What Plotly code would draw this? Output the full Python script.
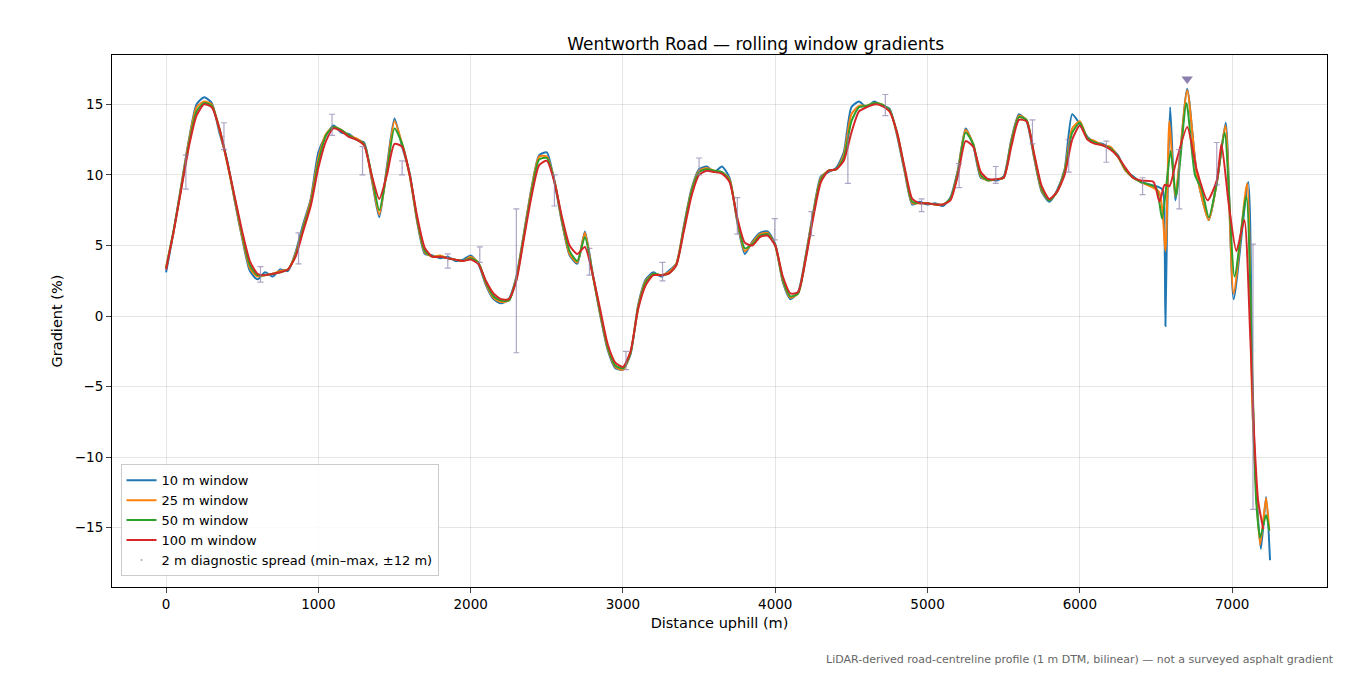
import plotly.graph_objects as go

step = 50
red_main = [3.3,6.0,9.0,12.0,14.2,15.0,14.8,13.3,11.0,8.5,
            6.0,3.9,3.0,2.9,3.0,3.1,3.3,4.2,6.0,7.8,
            10.5,12.4,13.3,13.1,12.7,12.5,12.1,10.0,8.3,10.0,
            12.2,12.0,10.0,7.0,4.8,4.2,4.2,4.1,4.0,3.9,
            4.0,3.7,2.5,1.6,1.2,1.2,2.5,5.5,8.5,10.7,
            11.0,9.5,7.0,5.0,4.4,4.9,3.0,0.5,-2.0,-3.3,
            -3.6,-2.5,0.5,2.2,2.9,2.9,3.0,3.6,6.0,8.5,
            10.0,10.3,10.2,10.1,9.5,7.0,5.2,5.0,5.6,5.7,
            5.0,2.8,1.6,1.7,4.0,7.0,9.5,10.3,10.4,11.0,
            13.0,14.5,14.8,15.0,14.9,14.5,13.0,10.5,8.3,8.0,
            8.0,7.9,7.9,8.2,10.0,12.4,12.0,10.2,9.7,9.7,
            9.8,12.0,13.9,13.8,11.5,9.2,8.3,8.8,10.0,12.5,
            13.5,12.5,12.2,12.1,11.8,11.3,10.5,9.8,9.6]
green_main = [3.4,6.1,9.1,12.2,14.5,15.1,14.9,13.3,11.0,8.4,
              5.8,3.6,2.9,2.9,3.0,3.1,3.3,4.3,6.2,8.0,
              10.9,12.8,13.4,13.2,12.8,12.5,12.2,10.0,7.5,10.2,
              13.3,12.2,10.0,6.8,4.6,4.2,4.2,4.1,4.0,3.9,
              4.1,3.8,2.4,1.4,1.1,1.1,2.6,5.7,8.8,11.1,
              11.2,9.6,6.8,4.6,3.9,5.6,3.0,0.3,-2.2,-3.5,
              -3.7,-2.6,0.6,2.4,3.0,2.9,3.0,3.6,6.2,8.8,
              10.2,10.4,10.3,10.2,9.6,6.9,4.8,5.1,5.7,5.8,
              5.0,2.6,1.4,1.6,4.1,7.2,9.7,10.3,10.4,11.2,
              13.8,14.8,14.9,15.1,15.0,14.6,13.0,10.4,8.1,8.0,
              8.0,7.9,7.9,8.3,10.2,13.0,12.2,10.0,9.6,9.7,
              9.8,12.3,14.1,13.9,11.4,9.0,8.2,8.8,10.2,13.0,
              13.7,12.6,12.3,12.1,11.9,11.3,10.4,9.8,9.5]
orange_main = [3.5,6.0,9.2,12.4,14.8,15.2,15.0,13.2,10.9,8.3,
               5.6,3.4,2.8,2.9,3.0,3.2,3.3,4.4,6.3,8.2,
               11.2,12.9,13.4,13.2,12.8,12.6,12.2,9.8,7.2,10.4,
               13.8,12.2,9.9,6.7,4.5,4.2,4.3,4.1,4.0,3.9,
               4.2,3.8,2.3,1.3,1.0,1.1,2.7,5.8,9.0,11.3,
               11.3,9.6,6.7,4.4,3.8,5.9,3.0,0.2,-2.3,-3.6,
               -3.8,-2.6,0.7,2.5,3.0,2.9,3.1,3.7,6.3,8.9,
               10.3,10.5,10.3,10.2,9.7,6.8,4.6,5.2,5.8,5.9,
               5.0,2.5,1.3,1.6,4.2,7.3,9.8,10.3,10.4,11.4,
               14.3,14.9,14.9,15.1,15.0,14.6,12.9,10.3,8.0,8.0,
               8.0,7.9,7.9,8.3,10.3,13.2,12.2,9.9,9.6,9.7,
               9.8,12.4,14.2,13.9,11.3,8.9,8.2,8.8,10.3,13.3,
               13.8,12.6,12.4,12.1,12.0,11.3,10.3,9.8,9.5]
blue_main = [3.1,6.0,9.3,12.5,15.0,15.5,15.1,13.0,11.1,8.2,
             5.5,3.2,2.6,3.1,2.8,3.3,3.2,4.5,6.5,8.3,
             11.6,12.8,13.5,13.0,12.9,12.5,12.3,9.7,7.0,10.6,
             14.0,12.0,10.1,6.6,4.4,4.3,4.1,4.2,3.9,4.0,
             4.3,3.7,2.2,1.2,0.9,1.2,2.8,5.9,9.1,11.4,
             11.6,9.5,6.6,4.3,3.7,6.0,3.1,0.1,-2.4,-3.7,
             -3.8,-2.7,0.8,2.6,3.1,2.8,3.2,3.7,6.4,9.0,
             10.4,10.6,10.2,10.6,9.8,6.7,4.4,5.3,5.9,6.0,
             5.1,2.4,1.2,1.7,4.3,7.4,9.9,10.2,10.5,11.6,
             14.8,15.2,14.8,15.2,14.9,14.7,12.8,10.2,7.9,8.1,
             7.9,8.0,7.8,8.4,10.4,13.3,12.1,9.8,9.7,9.6,
             9.9,12.5,14.3,13.8,11.2,8.8,8.1,8.9,10.4,14.3,
             13.6,12.7,12.3,12.2,11.9,11.4,10.3,9.9,9.5]

red_end_x = [6450,6484,6523,6557,6588,6627,6705,6769,6839,6899,6930,6977,7028,7080,7119,7145,7171,7205]
red_end_y = [9.3,9.5,8.1,9.3,9.2,10.7,13.4,10.3,8.2,9.6,12.2,8.0,4.6,6.8,-1.4,-8.5,-13.1,-15.1]
green_end_x = [6450,6500,6540,6596,6632,6700,6756,6800,6847,6900,6951,7016,7093,7132,7158,7184,7223,7244]
green_end_y = [9.4,9.1,6.9,11.7,8.5,15.1,10.0,9.0,7.0,9.5,13.0,2.8,8.5,-3.8,-13.1,-15.7,-14.1,-15.2]
orange_end_x = [6450,6520,6562,6588,6627,6705,6769,6847,6900,6956,7010,7098,7132,7184,7223,7244]
orange_end_y = [9.4,8.8,4.6,13.8,8.5,16.0,10.0,6.8,9.5,13.5,1.6,9.4,-6.1,-16.2,-12.9,-15.2]
blue_end_x = [6450,6540,6556,6562,6575,6593,6627,6705,6769,6847,6900,6958,7010,7106,7137,7189,7223,7249]
blue_end_y = [9.4,9.0,6.0,-0.7,8.0,14.8,8.2,16.1,10.0,6.8,9.5,13.7,1.2,9.5,-7.5,-16.5,-12.8,-17.3]

err_x = [130,380,620,870,1090,1290,1550,1850,2060,2300,2550,2780,3020,3260,3500,3751,3997,4238,4477,4723,4961,5207,5448,5689,5927,6174,6412,6653,6899,7137]
err_lo = [9.0,11.8,2.4,3.7,12.8,10.0,10.0,3.4,3.8,-2.6,7.8,2.9,-3.8,2.5,10.0,5.8,5.4,5.7,9.4,14.2,7.4,9.1,9.4,12.2,10.2,10.9,8.6,7.6,9.3,-13.7]
err_hi = [11.4,13.7,3.5,5.9,14.3,12.0,11.0,4.4,4.9,7.6,10.0,4.8,-2.5,3.8,11.2,8.4,6.9,7.4,12.9,15.7,8.3,10.8,10.6,13.9,12.5,12.4,9.8,11.8,12.3,5.1]
peak_x = [6705]
peak_y = [16.8]

def xs(main, endx):
    return [i * step for i in range(len(main))] + endx

fig = go.Figure()
series = [("10 m window", blue_main, blue_end_x, blue_end_y, "#1f77b4"),
          ("25 m window", orange_main, orange_end_x, orange_end_y, "#ff7f0e"),
          ("50 m window", green_main, green_end_x, green_end_y, "#2ca02c"),
          ("100 m window", red_main, red_end_x, red_end_y, "#d62728")]
for name, main, ex, ey, col in series:
    fig.add_trace(go.Scatter(x=xs(main, ex[1:]), y=main + ey[1:], mode="lines", name=name,
                             line=dict(color=col, width=2, shape="spline", smoothing=0.6)))

mid = [(a + b) / 2 for a, b in zip(err_lo, err_hi)]
fig.add_trace(go.Scatter(x=err_x, y=mid, mode="markers", name="2 m diagnostic spread (min–max, ±12 m)",
                         marker=dict(size=1, color="rgba(140,127,173,0.7)"),
                         error_y=dict(type="data", symmetric=False,
                                      array=[h - m for h, m in zip(err_hi, mid)],
                                      arrayminus=[m - l for m, l in zip(mid, err_lo)],
                                      color="rgba(140,127,173,0.7)", thickness=1.2, width=3)))
fig.add_trace(go.Scatter(x=peak_x, y=peak_y, mode="markers", showlegend=False,
                         marker=dict(symbol="triangle-down", size=10, color="#8c7fad")))

fig.update_layout(
    width=1335, height=660, template="plotly_white",
    font=dict(family="DejaVu Sans", size=13, color="black"),
    margin=dict(l=104, r=16, t=47, b=81),
    title=dict(text="Wentworth Road — rolling window gradients", x=0.56, xanchor="center", y=0.955, font=dict(size=17)),
    xaxis=dict(range=[-355, 7623], tickvals=[0,1000,2000,3000,4000,5000,6000,7000],
               title=dict(text="Distance uphill (m)", standoff=6, font=dict(size=14.5)),
               tickfont=dict(size=13.5), showline=True, linecolor="black", mirror=True,
               ticks="outside", gridcolor="rgba(0,0,0,0.1)", zeroline=False),
    yaxis=dict(range=[-19.2, 18.5], tickvals=[-15,-10,-5,0,5,10,15],
               ticktext=["−15","−10","−5","0","5","10","15"],
               title=dict(text="Gradient (%)", standoff=8, font=dict(size=14.5)),
               tickfont=dict(size=13.5), showline=True, linecolor="black", mirror=True,
               ticks="outside", gridcolor="rgba(0,0,0,0.1)", zeroline=False),
    legend=dict(x=0.007, y=0.02, xanchor="left", yanchor="bottom", bordercolor="#cccccc", borderwidth=1,
                bgcolor="rgba(255,255,255,0.85)", font=dict(size=13)),
    annotations=[dict(text="LiDAR-derived road-centreline profile (1 m DTM, bilinear) — not a surveyed asphalt gradient",
                      xref="paper", yref="paper", x=1.0075, y=-0.137, xanchor="right", yanchor="middle",
                      showarrow=False, font=dict(size=11, color="#666666"))])
fig.write_html("out.html")
